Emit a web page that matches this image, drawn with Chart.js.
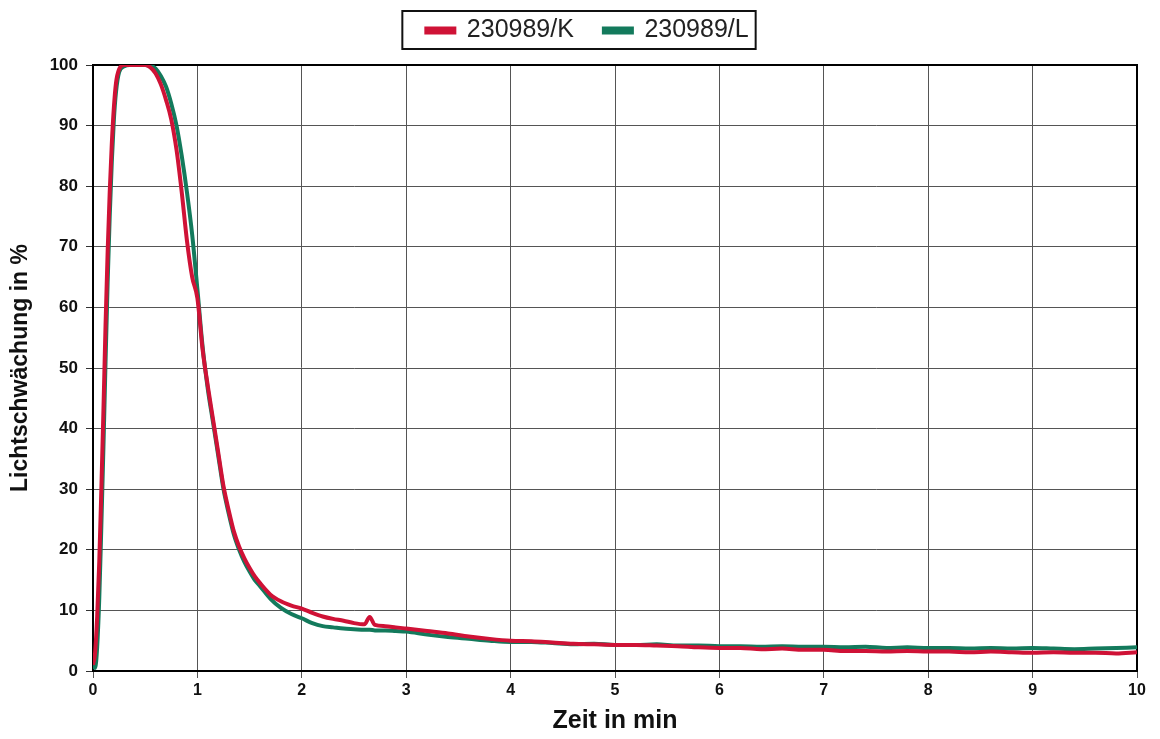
<!DOCTYPE html>
<html>
<head>
<meta charset="utf-8">
<script src="https://cdn.jsdelivr.net/npm/chart.js@4.4.1/dist/chart.umd.min.js"></script>
<style>
  html, body { margin: 0; padding: 0; background: #fff; }
  #wrap { width: 1160px; height: 739px; position: relative; }
</style>
</head>
<body>
<div id="wrap"><canvas id="c" width="1160" height="739"></canvas></div>
<script>
// ---- Data ----
const seriesNames = ['230989/K', '230989/L'];

const timesMin = [0,0.02,0.04,0.06,0.08,0.1,0.12,0.14,0.16,0.18,0.2,0.22,
  0.25,0.3,0.35,0.4,0.45,0.5,0.55,0.6,0.65,0.7,0.75,0.8,0.85,0.9,0.95,1.0,
  1.05,1.1,1.15,1.2,1.25,1.3,1.35,1.4,1.45,1.5,1.55,1.6,
  1.7,1.8,1.9,2.0,2.1,2.2,2.3,2.4,2.5,2.6,2.65,2.7,2.8,2.9,3.0,
  3.2,3.4,3.6,3.8,4.0,4.2,4.4,4.6,4.8,5.0,5.2,5.4,5.6,5.8,6.0,6.2,6.4,6.6,6.8,
  7.0,7.2,7.4,7.6,7.8,8.0,8.2,8.4,8.6,8.8,9.0,9.2,9.4,9.6,9.8,10.0];

const valuesK = [1,3,9,18,30,43,57,69,79,87,93,97,
  99.3,100,100,100,100,100,99.6,98.6,96.8,94.2,91,86,79,71,65,61.5,
  53,47,41.5,36,30.5,26.5,23,20.5,18.6,17,15.6,14.5,
  12.6,11.5,10.8,10.3,9.6,9.0,8.6,8.3,7.9,7.7,8.9,7.6,7.4,7.2,7.0,
  6.6,6.2,5.7,5.3,5.0,4.9,4.7,4.5,4.4,4.3,4.3,4.2,4.1,3.9,3.8,3.8,3.6,3.7,3.5,
  3.5,3.3,3.3,3.2,3.3,3.2,3.2,3.1,3.2,3.1,3.0,3.1,3.0,3.0,2.9,3.1];

const valuesL = [1,0.5,4,12,24,37,51,64,75,84,91,95.5,
  98.8,99.8,100,100,100,100,99.9,99.4,98.2,96.4,93.6,90,85,79,72,63,
  53.5,46.5,41,35.5,30,26,22.5,20,18,16.4,15,14,
  11.9,10.4,9.4,8.7,7.9,7.4,7.2,7.0,6.9,6.8,6.8,6.7,6.7,6.6,6.5,
  6.0,5.6,5.3,5.0,4.8,4.8,4.6,4.4,4.5,4.3,4.3,4.4,4.2,4.2,4.1,4.1,4.0,4.1,4.0,
  4.0,3.9,4.0,3.8,3.9,3.8,3.8,3.7,3.8,3.7,3.8,3.7,3.6,3.7,3.8,3.9];

const xTicks = [0,1,2,3,4,5,6,7,8,9,10];
const yTicks = [0,10,20,30,40,50,60,70,80,90,100];

const xTitle = 'Zeit in min';
const yTitle = 'Lichtschwächung in %';

// ---- Styles ----
const FONT = '"Liberation Sans", Arial, sans-serif';
const RED = '#cf1236';
const GREEN = '#137a5c';

function toPoints(xs, ys) { return xs.map((x, i) => ({ x: x, y: ys[i] })); }

const legendPatch = {
  id: 'legendPatch',
  beforeUpdate(chart) {
    const lg = chart.legend;
    if (lg && !lg._patched) {
      const f = lg.fit;
      lg.fit = function () { f.apply(this, arguments); this.height = 65; };
      lg._patched = true;
    }
  },
  afterLayout(chart) {
    const lg = chart.legend;
    if (lg) { lg.left += 19; lg.right += 19; lg.top -= 12; lg.bottom -= 12; }
  },
  afterDraw(chart) {
    const lg = chart.legend;
    if (!lg || !lg.legendHitBoxes || !lg.legendHitBoxes.length) return;
    const hb = lg.legendHitBoxes;
    const first = hb[0], last = hb[hb.length - 1];
    const ctx = chart.ctx;
    ctx.save();
    ctx.strokeStyle = '#111';
    ctx.lineWidth = 2;
    const l = first.left - 24, r = last.left + last.width + 7;
    const t = first.top - 7, b = first.top + first.height + 6;
    ctx.strokeRect(l, t, r - l, b - t);
    ctx.restore();
  }
};

const frame = {
  id: 'frame',
  beforeDatasetsDraw(chart) {
    const a = chart.chartArea, ctx = chart.ctx;
    ctx.save();
    ctx.strokeStyle = '#000';
    ctx.lineWidth = 2;
    ctx.strokeRect(a.left, a.top, a.right - a.left, a.bottom - a.top);
    ctx.restore();
  }
};

const bg = {
  id: 'bg',
  beforeDraw(chart) {
    const ctx = chart.ctx;
    ctx.save();
    ctx.fillStyle = '#fff';
    ctx.fillRect(0, 0, chart.width, chart.height);
    ctx.restore();
  }
};

new Chart(document.getElementById('c'), {
  type: 'line',
  data: {
    datasets: [
      { label: seriesNames[0], data: toPoints(timesMin, valuesK), borderColor: RED, backgroundColor: RED,
        borderWidth: 4, pointRadius: 0, cubicInterpolationMode: 'monotone', fill: false },
      { label: seriesNames[1], data: toPoints(timesMin, valuesL), borderColor: GREEN, backgroundColor: GREEN,
        borderWidth: 4, pointRadius: 0, cubicInterpolationMode: 'monotone', fill: false }
    ]
  },
  options: {
    responsive: false,
    animation: false,
    layout: { padding: { left: 0, right: 23, top: 0, bottom: 0 } },
    plugins: {
      legend: {
        display: true,
        position: 'top',
        labels: {
          font: { family: FONT, size: 25 },
          color: '#222',
          boxWidth: 28,
          boxHeight: 4,
          padding: 30
        }
      },
      tooltip: { enabled: false }
    },
    scales: {
      x: {
        type: 'linear',
        min: 0, max: 10,
        afterFit(s) { s.height = 68; },
        afterBuildTicks(s) { s.ticks = xTicks.map(v => ({ value: v })); },
        ticks: { font: { family: FONT, size: 16, weight: 'bold' }, color: '#111', padding: 3, maxRotation: 0 },
        grid: { color: '#555', lineWidth: 1, tickLength: 7, tickColor: '#555' },
        border: { color: '#000', width: 2 },
        title: { display: true, text: xTitle, font: { family: FONT, size: 25, weight: 'bold' }, color: '#111',
                 padding: { top: 0, bottom: 3 } }
      },
      y: {
        type: 'linear',
        min: 0, max: 100,
        afterFit(s) { s.width = 93; },
        afterBuildTicks(s) { s.ticks = yTicks.map(v => ({ value: v })); },
        ticks: { font: { family: FONT, size: 17, weight: 'bold' }, color: '#111', padding: 8 },
        grid: { color: '#555', lineWidth: 1, tickLength: 7, tickColor: '#333' },
        border: { color: '#000', width: 2 },
        title: { display: true, text: yTitle, font: { family: FONT, size: 23, weight: 'bold' }, color: '#111',
                 padding: { top: 7, bottom: 0 } }
      }
    }
  },
  plugins: [bg, legendPatch, frame]
});
</script>
</body>
</html>
